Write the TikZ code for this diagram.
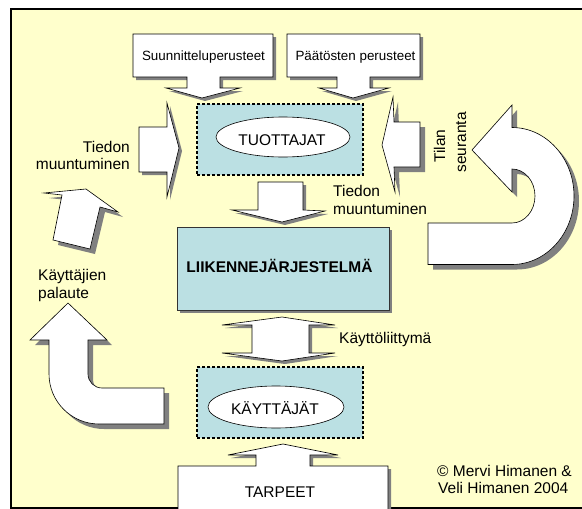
\documentclass[tikz,border=0pt]{standalone}
\usepackage{fontspec}
\setmainfont{Liberation Sans}
\usetikzlibrary{shapes.geometric}
\definecolor{bgyellow}{HTML}{FFFFCC}
\definecolor{boxblue}{HTML}{BBE0E3}
\definecolor{shadowgray}{HTML}{808080}
\definecolor{pure}{rgb}{1,1,1}
\def\pSuun{(133,34) -- (273,34) -- (273,77) -- (220,77) -- (220,88) -- (240,88) -- (202,98) -- (166,88) -- (187,88) -- (187,77) -- (133,77) -- cycle}
\def\pPaat{(287,34) -- (420,34) -- (420,77) -- (370,77) -- (370,88) -- (389,88) -- (353,98) -- (319,88) -- (337,88) -- (337,77) -- (287,77) -- cycle}
\def\pLeftIn{(139,127) -- (167,127) -- (167,103) -- (179,148) -- (167,197) -- (167,172) -- (139,172) -- cycle}
\def\pRightIn{(420,122) -- (394,122) -- (393,97) -- (382,145) -- (395,192) -- (394,167) -- (420,167) -- cycle}
\def\pDown{(258,182) -- (303,182) -- (303,210) -- (325,211) -- (282,222) -- (232,210) -- (258,210) -- cycle}
\def\pUturn{(472,150) -- (512,105) -- (512,127.5)
  .. controls (546.2,127.5) and (574,158.2) .. (574,196)
  .. controls (574,233.8) and (546.2,264.5) .. (512,264.5)
  -- (428,264.5) -- (428,223) -- (512,223)
  .. controls (524.7,223) and (535,210.9) .. (535,196)
  .. controls (535,181.1) and (524.7,169) .. (512,169)
  -- (512,192) -- cycle}
\def\pTilt{(86,189) -- (118,212) -- (100,207) -- (90,249) -- (53,240) -- (62,195) -- (44,193) -- cycle}
\def\pEll{(68,303) -- (107,340) -- (88,340) -- (88,374)
  .. controls (88,381.7) and (94.3,388) .. (102,388) -- (164,388) -- (164,424) -- (99,424)
  .. controls (71.4,424) and (49,401.6) .. (49,374) -- (49,340) -- (30,340) -- cycle}
\def\pDouble{(282,317) -- (335,325) -- (309,325) -- (309,353) -- (335,353) -- (282,361) -- (222,353) -- (252,353) -- (252,325) -- (222,325) -- cycle}
\def\pTarp{(178,509) -- (178,466) -- (256,466) -- (256,455) -- (228,455) -- (283,444) -- (338,455) -- (310,455) -- (310,466) -- (388,466) -- (388,509)}
\begin{document}
\begin{tikzpicture}[x=1pt,y=-1pt,
  lbl/.style={font=\fontsize{15.5pt}{18pt}\selectfont, inner sep=0pt, text=black},
  lblbold/.style={font=\fontsize{15.5pt}{18pt}\selectfont\bfseries, inner sep=0pt, text=black},
  smalllbl/.style={font=\fontsize{13.4pt}{16pt}\selectfont, inner sep=0pt, text=black},
  whitefill/.style={fill=pure, draw=none},
  outline/.style={draw=black, line width=0.6pt, line join=miter},
  shadowfill/.style={fill=shadowgray, draw=none},
  dashbox/.style={draw=black, fill=boxblue, line width=1.2pt, dash pattern=on 3pt off 2pt, inner sep=0pt},
  oval/.style={ellipse, draw=black, fill=white, line width=0.6pt, inner sep=0pt},
]
\useasboundingbox (0,0) rectangle (582,509);
\fill[white] (0,0) rectangle (582,509);
\draw[fill=bgyellow, line width=1.5pt] (11,9) rectangle (585,508);

% shadows
\begin{scope}[shift={(3,3)}]
  \fill[shadowfill] \pSuun;
  \fill[shadowfill] \pPaat;
  \fill[shadowfill] \pLeftIn;
  \fill[shadowfill] \pDown;
  \fill[shadowfill] \pDouble;
  \fill[shadowfill] \pTarp;
  \fill[shadowfill] (177,227) rectangle (389,310);
\end{scope}
\begin{scope}[shift={(5,5)}]
  \fill[shadowfill] \pRightIn;
  \fill[shadowfill] \pUturn;
  \fill[shadowfill] \pTilt;
  \fill[shadowfill] \pEll;
\end{scope}

% white block shapes
\fill[whitefill] \pSuun;
\fill[whitefill] \pPaat;
\fill[whitefill] \pLeftIn;
\fill[whitefill] \pRightIn;
\fill[whitefill] \pDown;
\fill[whitefill] \pUturn;
\fill[whitefill] \pTilt;
\fill[whitefill] \pEll;
\fill[whitefill] \pDouble;
\fill[whitefill] \pTarp;
\draw[outline] \pSuun;
\draw[outline] \pPaat;
\draw[outline] \pLeftIn;
\draw[outline] \pRightIn;
\draw[outline] \pDown;
\draw[outline] \pUturn;
\draw[outline] \pTilt;
\draw[outline] \pEll;
\draw[outline] \pDouble;
\draw[outline] \pTarp;

% top callout labels
\node[smalllbl, anchor=base] (suun) at (203.5,60) {Suunnitteluperusteet};
\node[smalllbl, anchor=base] (paat) at (355.5,60) {Päätösten perusteet};

% producers box
\node[dashbox, minimum width=166pt, minimum height=71pt] (tbox) at (280,139.5) {};
\node[oval, minimum width=134pt, minimum height=40pt] (tuot) at (283,137) {};
\node[lbl, anchor=base] (tuottxt) at (282,145) {TUOTTAJAT};

\node[lbl, anchor=base east] (tm1a) at (130,152) {Tiedon};
\node[lbl, anchor=base east] (tm1b) at (130,169) {muuntuminen};
\node[lbl, anchor=base west] (tm2a) at (333,196.5) {Tiedon};
\node[lbl, anchor=base west] (tm2b) at (333,214.5) {muuntuminen};

% traffic system
\node[draw=black!80, fill=boxblue, line width=0.8pt, minimum width=212pt, minimum height=83pt, inner sep=0pt] (liik) at (283,268.5) {};
\node[lblbold, anchor=base] (liiktxt) at (279.5,272) {LIIKENNEJÄRJESTELMÄ};

\node[lbl, anchor=base, rotate=90] (tilan) at (445,146) {Tilan};
\node[lbl, anchor=base, rotate=90] (seur) at (466,142.5) {seuranta};

\node[lbl, anchor=base west] (kp1) at (38,280) {Käyttäjien};
\node[lbl, anchor=base west] (kp2) at (38,298) {palaute};

\node[lbl, anchor=base west] (kl) at (339,343) {Käyttöliittymä};

% users box
\node[dashbox, minimum width=166pt, minimum height=71pt] (kbox) at (280,402.5) {};
\node[oval, minimum width=136pt, minimum height=42pt] (kayt) at (276,407) {};
\node[lbl, anchor=base] (kayttxt) at (275,414.5) {KÄYTTÄJÄT};

\node[lbl, anchor=base] (tarp) at (280,497) {TARPEET};

% copyright
\node[lbl, anchor=base west] (c1) at (437,476) {© Mervi Himanen \&};
\node[lbl, anchor=base west] (c2) at (438,493) {Veli Himanen 2004};
\end{tikzpicture}
\end{document}
